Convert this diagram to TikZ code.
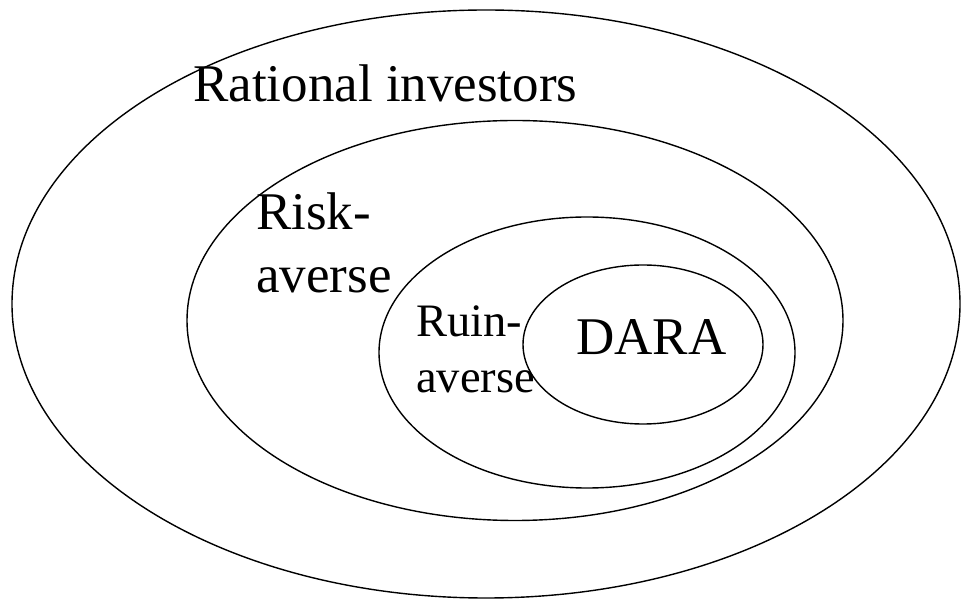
\documentclass[tikz,border=0pt]{standalone}
\usepackage{fontspec}
\setmainfont{Liberation Serif}
\begin{document}
\begin{tikzpicture}[x=1pt,y=1pt,
  ring/.style={draw=black,line width=1.4pt},
  bigtext/.style={anchor=base west,inner sep=0pt,font=\fontsize{53}{63}\selectfont},
  midtext/.style={anchor=base west,inner sep=0pt,font=\fontsize{46.5}{56}\selectfont}]
\useasboundingbox[fill=white] (0,0) rectangle (962,600);
% ellipses
\draw[ring] (486,296) ellipse [x radius=474, y radius=294];
\draw[ring] (515,279.5) ellipse [x radius=328, y radius=200];
\draw[ring] (587,247.5) ellipse [x radius=208, y radius=135.5];
\draw[ring] (643,255.5) ellipse [x radius=120, y radius=79.5];
% labels
\node[bigtext] (rational) at (193,498) {Rational investors};
\node[bigtext] (risk1) at (256,370) {Risk-};
\node[bigtext] (risk2) at (256,307) {averse};
\node[midtext] (ruin1) at (416,263) {Ruin-};
\node[midtext] (ruin2) at (416,207) {averse};
\node[bigtext] (dara) at (576,245) {DARA};
\end{tikzpicture}
\end{document}
